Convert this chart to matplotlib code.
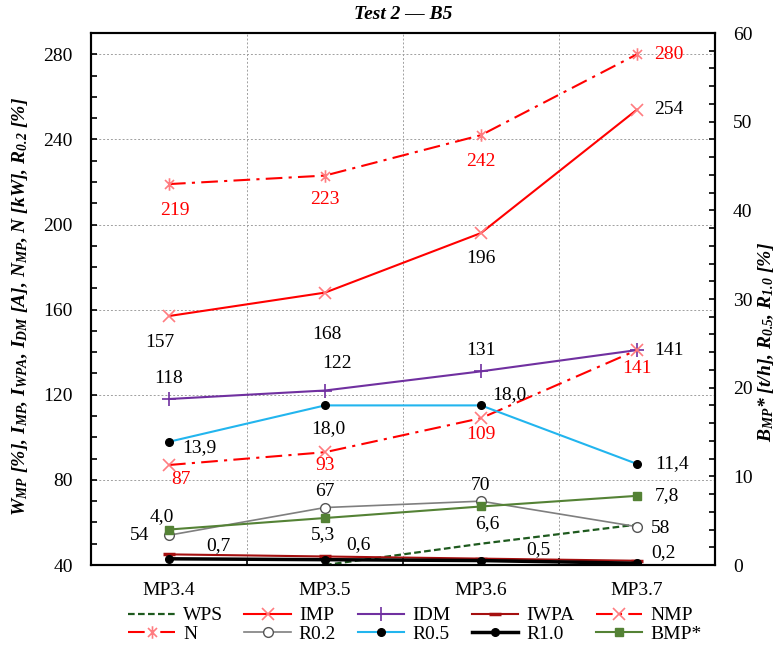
import numpy as np
import matplotlib
matplotlib.use("Agg")
import matplotlib.pyplot as plt
from matplotlib.path import Path
from matplotlib.ticker import MultipleLocator, FixedLocator

plt.rcParams['font.family'] = ['Liberation Serif', 'DejaVu Serif']
plt.rcParams['mathtext.fontset'] = 'custom'
plt.rcParams['mathtext.it'] = 'Liberation Serif:style=italic:weight=bold'
plt.rcParams['mathtext.rm'] = 'Liberation Serif:style=italic:weight=bold'
plt.rcParams['mathtext.bf'] = 'Liberation Serif:weight=bold'

# data
cats = ['MP3.4', 'MP3.5', 'MP3.6', 'MP3.7']
wps = [np.nan, 40, 50, 59]
imp = [157, 168, 196, 254]
idm = [118, 122, 131, 141]
iwpa = [45, 44, 43, 42]
nmp = [87, 93, 109, 141]
n_kw = [219, 223, 242, 280]
r02 = [54, 67, 70, 58]
r05 = [13.9, 18.0, 18.0, 11.4]
r10 = [0.7, 0.6, 0.5, 0.2]
bmp = [4.0, 5.3, 6.6, 7.8]

x = np.arange(len(cats))

fs = 14
fig = plt.figure(figsize=(7.79, 6.54), dpi=100)
ax = fig.add_axes([91/779, 1-565/654, 624/779, 532/654])
ax2 = ax.twinx()

# asterisk marker (x with vertical bar)
star = Path([(0, -1), (0, 1), (-0.72, -0.72), (0.72, 0.72), (-0.72, 0.72), (0.72, -0.72)],
            [Path.MOVETO, Path.LINETO, Path.MOVETO, Path.LINETO, Path.MOVETO, Path.LINETO])

pink = '#FF7C80'
h = {}
h['WPS'], = ax.plot(x, wps, color='#1E5A1E', ls=(0, (3, 1.5)), lw=1.6, label='WPS')
h['IMP'], = ax.plot(x, imp, color='#FF0000', lw=1.5, marker='x', ms=8, mec=pink, mew=1.2, label='IMP')
h['IDM'], = ax.plot(x, idm, color='#7030A0', lw=1.5, marker='+', ms=10, mew=1.2, label='IDM')
h['IWPA'], = ax.plot(x, iwpa, color='#A50F0F', lw=1.5, marker='_', ms=9, mew=2.5, label='IWPA')
h['NMP'], = ax.plot(x, nmp, color='#FF0000', lw=1.5, ls=(0, (8, 3, 1.5, 3)), marker='x', ms=8,
                    mec=pink, mew=1.2, label='NMP')
h['N'], = ax.plot(x, n_kw, color='#FF0000', lw=1.5, ls=(0, (8, 3, 1.5, 3)), marker=star, ms=9,
                  mec=pink, mfc='none', mew=1.2, label='N')
h['R0.2'], = ax.plot(x, r02, color='#7F7F7F', lw=1.2, marker='o', ms=7, mfc='white', mec='#555555',
                     mew=1.0, label='R0.2')

h['R0.5'], = ax2.plot(x, r05, color='#22B5EE', lw=1.5, marker='o', ms=5.5, mfc='black', mec='black',
                      label='R0.5')
h['R1.0'], = ax2.plot(x, r10, color='black', lw=2.5, marker='o', ms=5.5, label='R1.0')
h['BMP*'], = ax2.plot(x, bmp, color='#548235', lw=1.5, marker='s', ms=6, label='BMP*')

ax.set_xlim(-0.5, 3.5)
ax.set_ylim(40, 290)
ax2.set_ylim(0, 60)

ax.set_xticks(x)
ax.set_xticklabels(cats)
ax.xaxis.set_minor_locator(FixedLocator([0.5, 1.5, 2.5]))
ax.tick_params(axis='x', which='major', length=0, pad=12, labelsize=fs)
ax.tick_params(axis='x', which='minor', length=5, direction='in', width=1.2)
ax.yaxis.set_major_locator(MultipleLocator(40))
ax.yaxis.set_minor_locator(MultipleLocator(10))
ax.tick_params(axis='y', which='both', direction='in', length=4, width=1.2, labelsize=fs, pad=13)
ax2.yaxis.set_major_locator(MultipleLocator(10))
ax2.yaxis.set_minor_locator(MultipleLocator(2))
ax2.tick_params(axis='y', which='both', direction='in', length=4, width=1.2, labelsize=fs, pad=13)

ax.grid(True, axis='y', which='major', color='#A0A0A0', ls=(0, (2, 2)), lw=0.7)
ax.grid(True, axis='x', which='minor', color='#A0A0A0', ls=(0, (2, 2)), lw=0.7)
for a in (ax, ax2):
    for s in a.spines.values():
        s.set_linewidth(1.5)
        s.set_color('black')

ax.set_ylabel('W$_{MP}$ [%], I$_{MP}$, I$_{WPA}$, I$_{DM}$ [A], N$_{MP}$, N [kW], R$_{0.2}$ [%]',
              fontsize=fs, fontweight='bold', fontstyle='italic')
ax.yaxis.set_label_coords(-0.098, 0.485)
ax2.set_ylabel('B$_{MP}$* [t/h], R$_{0.5}$, R$_{1.0}$ [%]', fontsize=fs, fontweight='bold',
               fontstyle='italic')
ax2.yaxis.set_label_coords(1.066, 0.42)
ax.set_title('Test 2 — B5', fontsize=14, fontweight='bold', fontstyle='italic', pad=10)

# data labels, offsets in pixels
def lab(a, vals, texts, color, offs):
    for xi, v, t, (dx, dy) in zip(x, vals, texts, offs):
        a.annotate(t, (xi, v), xytext=(dx, dy), textcoords='offset pixels', ha='center',
                   va='center', fontsize=fs, color=color)

def fmt(vals):
    return [f'{v:.1f}'.replace('.', ',') for v in vals]

lab(ax, n_kw, [str(v) for v in n_kw], '#FF0000', [(6, -26), (0, -24), (0, -26), (32, 0)])
lab(ax, imp, [str(v) for v in imp], 'black', [(-9, -26), (2, -42), (0, -25), (32, 0)])
lab(ax, idm, [str(v) for v in idm], 'black', [(0, 21), (12, 27), (0, 21), (32, 0)])
lab(ax, nmp, [str(v) for v in nmp], '#FF0000', [(12, -15), (0, -13), (0, -16), (0, -18)])
lab(ax, r02, [str(v) for v in r02], 'black', [(-29, 0), (0, 16), (0, 16), (24, -2)])
lab(ax2, r05, fmt(r05), 'black', [(30, -6), (3, -23), (28, 11), (35, 0)])
lab(ax2, bmp, fmt(bmp), 'black', [(-7, 13), (-2, -17), (6, -17), (30, 0)])
lab(ax2, r10, fmt(r10), 'black', [(49, 13), (33, 15), (57, 11), (27, 11)])

order = ['WPS', 'N', 'IMP', 'R0.2', 'IDM', 'R0.5', 'IWPA', 'R1.0', 'NMP', 'BMP*']
fig.legend([h[k] for k in order], order, loc='upper center', bbox_to_anchor=(415/779, 1-603/654),
           ncol=5, frameon=False, fontsize=fs, handlelength=2.4, handletextpad=0.4,
           columnspacing=1.1, labelspacing=0.05, borderaxespad=0, borderpad=0.2)

fig.savefig('out.png', dpi=100)
